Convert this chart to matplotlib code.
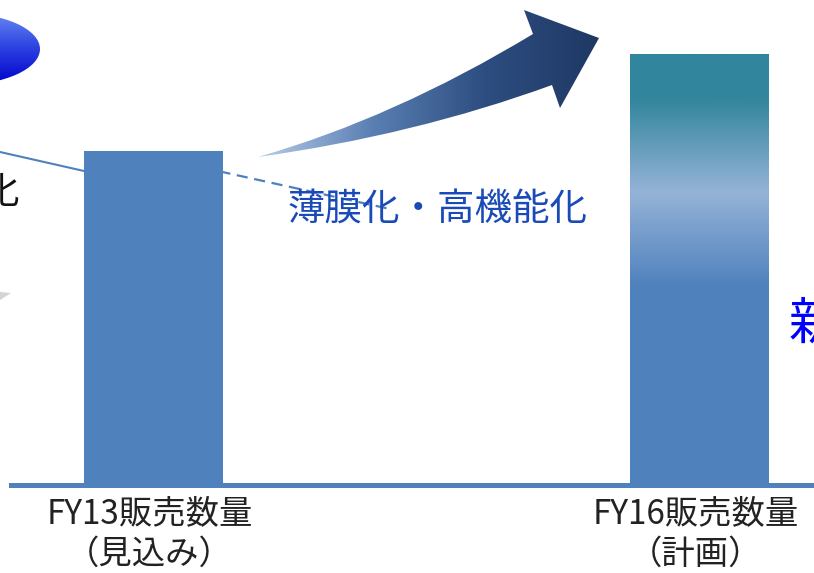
import numpy as np
import matplotlib.pyplot as plt
from matplotlib.colors import LinearSegmentedColormap
from matplotlib.patches import Ellipse, PathPatch, Polygon
from matplotlib.path import Path

plt.rcParams['font.family'] = ['Noto Sans CJK JP', 'DejaVu Sans']

# data
categories = ['FY13販売数量\n（見込み）', 'FY16販売数量\n（計画）']
volumes = [100, 129]
trend_label = '薄膜化・高機能化'

W, H = 814, 573
fig = plt.figure(figsize=(W / 100, H / 100), dpi=100)

# overlay in pixel coordinates for the slide decorations (behind the bars)
ov = fig.add_axes([0, 0, 1, 1])
ov.set_xlim(0, W)
ov.set_ylim(H, 0)
ov.axis('off')

base_px = 485
ax = fig.add_axes([0, (H - base_px) / H, 1, base_px / H])
ov.set_zorder(1)
ax.set_zorder(2)
ax.patch.set_visible(False)

# bars
x = np.arange(len(categories))
unit = 546.0
bars = ax.bar(x, volumes, width=139 / unit, color='#4f81bd', zorder=2)

bar_cmap = LinearSegmentedColormap.from_list(
    'bar', [(0, '#4f81bd'), (0.46, '#4f81bd'), (0.68, '#95b3d7'),
            (0.9, '#31859c'), (1, '#31859c')])
b = bars[1]
grad = np.linspace(0, 1, 256).reshape(-1, 1)
im = ax.imshow(grad, extent=[b.get_x(), b.get_x() + b.get_width(), 0, b.get_height()],
               origin='lower', cmap=bar_cmap, aspect='auto', zorder=3)
im.set_clip_path(b)

left = -153.5 / unit
ax.set_xlim(left, left + W / unit)
ax.set_ylim(0, 100 * base_px / 334)

for s in ['top', 'right', 'left']:
    ax.spines[s].set_visible(False)
ax.spines['bottom'].set_color('#4f81bd')
ax.spines['bottom'].set_linewidth(3.6)
ax.spines['bottom'].set_bounds(left + 11 / unit, left + W / unit)
ax.spines['bottom'].set_zorder(4)
ax.set_yticks([])
ax.set_xticks(x - 4 / unit, categories, fontsize=24, color='#222222', linespacing=1.22)
ax.tick_params(axis='x', length=0, pad=8)

# curved gradient arrow
verts = [(258, 157), (394, 118), (533, 34), (524, 10), (599, 38), (560, 108),
         (552, 85), (415, 135), (258, 157), (258, 157)]
codes = [Path.MOVETO, Path.CURVE3, Path.CURVE3, Path.LINETO, Path.LINETO,
         Path.LINETO, Path.LINETO, Path.CURVE3, Path.CURVE3, Path.CLOSEPOLY]
arrow = PathPatch(Path(verts, codes), facecolor='none', edgecolor='none')
ov.add_patch(arrow)
arrow_cmap = LinearSegmentedColormap.from_list(
    'arrow', ['#b8cce8', '#5a7fb3', '#2d4d80', '#1f3864'])
aim = ov.imshow(np.linspace(0, 1, 256).reshape(1, -1), extent=[258, 600, 160, 8],
                cmap=arrow_cmap, aspect='auto')
aim.set_clip_path(arrow)

# blue ellipse at the top left
ell = Ellipse((-40, 49), 160, 72, facecolor='none', edgecolor='none')
ov.add_patch(ell)
ell_cmap = LinearSegmentedColormap.from_list('ell', ['#6688f2', '#2a3fe0', '#0000cc'])
eim = ov.imshow(np.linspace(0, 1, 256).reshape(-1, 1), extent=[-120, 40, 85, 13],
                cmap=ell_cmap, aspect='auto')
eim.set_clip_path(ell)

# callout lines
ov.plot([0, 84], [152, 171], color='#4f81bd', lw=1.5)
ov.plot([150, 390], [156, 209], color='#4f81bd', lw=1.6, ls=(0, (5, 3)))

# gray wedge on the left edge
ov.add_patch(Polygon([(0, 292), (11, 293), (0, 300)], closed=True,
                     facecolor='#d4d4d4', edgecolor='none'))

# texts
ov.text(438, 210, trend_label, fontsize=27, color='#1a4ab8', ha='center', va='center')
ov.text(19, 192, '化', fontsize=27, color='#111111', ha='right', va='center')
ov.text(789, 325, '新', fontsize=36, color='#0000ff', ha='left', va='center')

ov.set_xlim(0, W)
ov.set_ylim(H, 0)

plt.savefig('out.png', dpi=100)
